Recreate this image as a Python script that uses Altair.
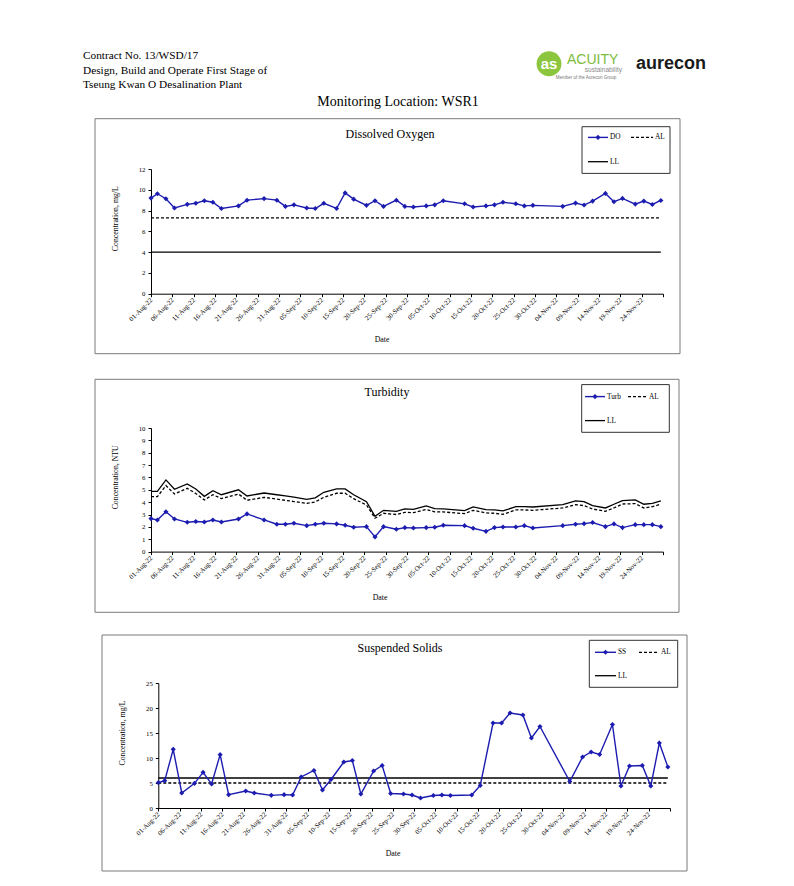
import altair as alt
import pandas as pd

# ---------------- data ----------------
DATES = [
    "2022-08-01T00:00:00Z",
    "2022-08-02T12:00:00Z", "2022-08-04T12:00:00Z", "2022-08-06T12:00:00Z", "2022-08-09T12:00:00Z",
    "2022-08-11T12:00:00Z", "2022-08-13T12:00:00Z", "2022-08-15T12:00:00Z", "2022-08-17T12:00:00Z",
    "2022-08-21T12:00:00Z", "2022-08-23T12:00:00Z", "2022-08-27T12:00:00Z", "2022-08-30T12:00:00Z",
    "2022-09-01T12:00:00Z", "2022-09-03T12:00:00Z", "2022-09-06T12:00:00Z", "2022-09-08T12:00:00Z",
    "2022-09-10T12:00:00Z", "2022-09-13T12:00:00Z", "2022-09-15T12:00:00Z", "2022-09-17T12:00:00Z",
    "2022-09-20T12:00:00Z", "2022-09-22T12:00:00Z", "2022-09-24T12:00:00Z", "2022-09-27T12:00:00Z",
    "2022-09-29T12:00:00Z",
    "2022-10-01T12:00:00Z", "2022-10-04T12:00:00Z", "2022-10-06T12:00:00Z", "2022-10-08T12:00:00Z",
    "2022-10-13T12:00:00Z", "2022-10-15T12:00:00Z", "2022-10-18T12:00:00Z", "2022-10-20T12:00:00Z",
    "2022-10-22T12:00:00Z", "2022-10-25T12:00:00Z", "2022-10-27T12:00:00Z", "2022-10-29T12:00:00Z",
    "2022-11-05T12:00:00Z", "2022-11-08T12:00:00Z", "2022-11-10T12:00:00Z", "2022-11-12T12:00:00Z",
    "2022-11-15T12:00:00Z", "2022-11-17T12:00:00Z", "2022-11-19T12:00:00Z", "2022-11-22T12:00:00Z",
    "2022-11-24T12:00:00Z", "2022-11-26T12:00:00Z", "2022-11-28T12:00:00Z",
]

DO = [9.2, 9.62, 9.14, 8.25, 8.6, 8.7, 8.95, 8.8, 8.2, 8.45,
      9.0, 9.15, 9.0, 8.4, 8.55, 8.25, 8.2, 8.7, 8.2, 9.7,
      9.1, 8.5, 8.95, 8.4, 9.0, 8.4, 8.35, 8.45, 8.55, 8.95,
      8.65, 8.35, 8.45, 8.55, 8.8, 8.65, 8.45, 8.5, 8.4, 8.72,
      8.53, 8.91, 9.65, 8.85, 9.17, 8.62, 8.91, 8.59, 8.97]
DO_AL = 7.3
DO_LL = 4.0

TURB = [2.67, 2.56, 3.23, 2.64, 2.37, 2.43, 2.4, 2.56, 2.4, 2.64,
        3.05, 2.56, 2.21, 2.21, 2.29, 2.1, 2.21, 2.29, 2.24, 2.13,
        1.97, 2.02, 1.19, 2.02, 1.81, 1.94, 1.91, 1.94, 1.97, 2.13,
        2.1, 1.89, 1.64, 1.94, 1.99, 1.99, 2.1, 1.91, 2.1, 2.21,
        2.26, 2.35, 2.02, 2.24, 1.94, 2.18, 2.18, 2.18, 2.02]
TURB_LL = [4.88, 4.88, 5.8, 5.04, 5.47, 5.07, 4.47, 4.93, 4.6, 5.0,
           4.5, 4.74, 4.6, 4.5, 4.4, 4.23, 4.35, 4.8, 5.07, 5.07,
           4.6, 4.04, 2.86, 3.34, 3.26, 3.45, 3.42, 3.69, 3.48, 3.45,
           3.32, 3.61, 3.4, 3.37, 3.29, 3.64, 3.64, 3.61, 3.8, 4.1,
           4.04, 3.72, 3.53, 3.83, 4.12, 4.18, 3.83, 3.91, 4.1]
TURB_AL = [4.45, 4.45, 5.34, 4.66, 5.12, 4.7, 4.18, 4.6, 4.29, 4.66,
           4.15, 4.39, 4.25, 4.15, 4.05, 3.9, 4.02, 4.39, 4.72, 4.72,
           4.28, 3.77, 2.7, 3.1, 3.0, 3.18, 3.15, 3.4, 3.21, 3.21,
           3.07, 3.34, 3.13, 3.1, 3.02, 3.37, 3.37, 3.34, 3.53, 3.8,
           3.72, 3.45, 3.26, 3.53, 3.85, 3.88, 3.53, 3.64, 3.83]

SS = [5.07, 5.47, 11.73, 3.0, 4.93, 7.13, 4.8, 10.67, 2.67, 3.4,
      3.0, 2.53, 2.67, 2.6, 6.2, 7.5, 3.6, 5.7, 9.2, 9.5,
      2.8, 7.4, 8.5, 2.9, 2.8, 2.6, 2.0, 2.5, 2.6, 2.5,
      2.6, 4.5, 17.0, 17.0, 19.0, 18.6, 14.0, 16.3, 5.3, 10.2,
      11.2, 10.7, 16.7, 4.4, 8.4, 8.5, 4.4, 13.0, 8.2]
SS_AL = 5
SS_LL = 6

HEADER = ["Contract No. 13/WSD/17",
          "Design, Build and Operate First Stage of",
          "Tseung Kwan O Desalination Plant"]
PAGE_TITLE = "Monitoring Location: WSR1"

# ---------------- styling ----------------
BLUE = "#1c1cb0"
SERIF = "Liberation Serif"
SANS = "Liberation Sans"
ONE = pd.DataFrame({"k": [0]})
ANCHOR_X = 8
OX = 151  # common group origin (page x) of every panel


def ms(s):
    return int(pd.Timestamp(s, tz="UTC").timestamp() * 1000)


X_START = ms("2022-08-01")
X_END = ms("2022-11-29")
TICK_VALUES = [X_START + i * 5 * 86400000 for i in range(25)]
LAST_LABEL = ms("2022-11-24")


def panel(values, al, ll, series, title, ytitle, ymax, ystep,
          xshift, oy, w, h, frame, anchor_y, title_xy, ytitle_xy, date_xy, leg,
          extra_text=()):
    n = len(values)
    al = al if isinstance(al, list) else [al] * n
    ll = ll if isinstance(ll, list) else [ll] * n
    df = pd.DataFrame({"date": DATES, "v": values, "al": al, "ll": ll})

    def px(x):
        return x - OX

    def py(y):
        return y - oy

    X = alt.X("date:T", title=None,
              scale=alt.Scale(type="utc", domain=[X_START, X_END], range=[xshift, xshift + w]),
              axis=alt.Axis(values=TICK_VALUES,
                            labelExpr=f"datum.value > {LAST_LABEL} ? '' : utcFormat(datum.value, '%d-%b-%y')",
                            labelAngle=315, labelAlign="right", labelBaseline="middle",
                            labelOverlap=False, labelFlush=False, labelPadding=2,
                            tickSize=3, labelFontSize=6.8, grid=False))

    def Y(f):
        return alt.Y(f"{f}:Q", title=None,
                     scale=alt.Scale(domain=[0, ymax], nice=False),
                     axis=alt.Axis(values=list(range(0, ymax + 1, ystep)), grid=False,
                                   offset=-xshift,
                                   tickSize=3, labelPadding=3, labelFontSize=6.8))

    base = alt.Chart(df)
    layers = []

    def text(s, x, y, size, font=SERIF, **kw):
        return alt.Chart(ONE).mark_text(fontSize=size, font=font, **kw).encode(
            x=alt.value(px(x)), y=alt.value(py(y)), text=alt.value(s))

    def rule(x1, x2, y, color="black", width=1.3, dash=None):
        kw = dict(color=color, strokeWidth=width)
        if dash:
            kw["strokeDash"] = dash
        return alt.Chart(ONE).mark_rule(**kw).encode(
            x=alt.value(px(x1)), x2=alt.value(px(x2)), y=alt.value(py(y)))

    def rect(x1, y1, x2, y2, **kw):
        return alt.Chart(ONE).mark_rect(**kw).encode(
            x=alt.value(px(x1)), x2=alt.value(px(x2)),
            y=alt.value(py(y1)), y2=alt.value(py(y2)))

    # anchor and frame
    layers.append(rect(ANCHOR_X, anchor_y, ANCHOR_X + 1, anchor_y + 1, fill="white", strokeWidth=0))
    layers.append(rect(*frame, fill="white", fillOpacity=0, stroke="#7a7a7a", strokeWidth=1))

    # limit lines and data
    layers.append(base.mark_line(color="black", strokeWidth=1.3, strokeDash=[3, 2]).encode(x=X, y=Y("al")))
    layers.append(base.mark_line(color="black", strokeWidth=1.3).encode(x=X, y=Y("ll")))
    layers.append(base.mark_line(color=BLUE, strokeWidth=1.4).encode(x=X, y=Y("v")))
    layers.append(base.mark_point(shape="diamond", filled=True, size=26, color=BLUE, opacity=1).encode(x=X, y=Y("v")))

    # titles
    layers.append(text(title, title_xy[0], title_xy[1], 12, align="center", baseline="middle"))
    layers.append(text(ytitle, ytitle_xy[0], ytitle_xy[1], 7.8, align="center", baseline="middle", angle=270))
    layers.append(text("Date", date_xy[0], date_xy[1], 7.8, align="center", baseline="middle"))

    # legend
    bx1, by1, bx2, by2, lx1, lx2, ax1, ax2, y1, y2 = leg
    layers.append(rect(bx1, by1, bx2, by2, fill="white", stroke="#333333", strokeWidth=1))
    layers.append(rule(lx1, lx2, y1, color=BLUE, width=1.4))
    layers.append(alt.Chart(ONE).mark_point(shape="diamond", filled=True, size=26, color=BLUE, opacity=1).encode(
        x=alt.value(px((lx1 + lx2) / 2)), y=alt.value(py(y1))))
    layers.append(text(series, lx2 + 2, y1, 7.3, align="left", baseline="middle"))
    layers.append(rule(ax1, ax2, y1, dash=[3, 2]))
    layers.append(text("AL", ax2 + 2, y1, 7.3, align="left", baseline="middle"))
    layers.append(rule(lx1, lx2, y2))
    layers.append(text("LL", lx2 + 2, y2, 7.3, align="left", baseline="middle"))

    for e in extra_text:
        kind = e[0]
        if kind == "text":
            _, s, x, y, size, kw = e
            layers.append(text(s, x, y, size, **kw))
        elif kind == "dot":
            _, x, y, size, color = e
            layers.append(alt.Chart(ONE).mark_point(shape="circle", filled=True, size=size,
                                                    color=color, opacity=1).encode(
                x=alt.value(px(x)), y=alt.value(py(y))))

    return alt.layer(*layers).properties(width=w + xshift, height=h)


header_items = [
    ("text", HEADER[0], 83, 55, 11.3, dict(align="left", baseline="middle")),
    ("text", HEADER[1], 83, 70, 11.3, dict(align="left", baseline="middle")),
    ("text", HEADER[2], 83, 84, 11.3, dict(align="left", baseline="middle")),
    ("text", PAGE_TITLE, 398, 101, 14, dict(align="center", baseline="middle")),
    ("dot", 549, 63, 620, "#8cc63f"),
    ("text", "as", 549, 63, 15, dict(align="center", baseline="middle", font=SANS,
                                      fontWeight="bold", color="white")),
    ("text", "ACUITY", 567, 59, 14, dict(align="left", baseline="middle", font=SANS, color="#7dbb3c")),
    ("text", "sustainability", 622, 69.5, 6.5, dict(align="right", baseline="middle", font=SANS, color="#8a8a8a")),
    ("text", "Member of the Aurecon Group", 586, 77.5, 4.5, dict(align="center", baseline="middle",
                                                                font=SANS, color="#777777")),
    ("text", "aurecon", 636, 63, 18, dict(align="left", baseline="middle", font=SANS,
                                          fontWeight="bold", color="#1a1a1a")),
]

p1 = panel(DO, DO_AL, DO_LL, "DO", "Dissolved Oxygen", "Concentration, mg/L", 12, 2,
           xshift=0, oy=168.3, w=512, h=124.7,
           frame=(95, 118, 680, 353), anchor_y=8,
           title_xy=(390, 133), ytitle_xy=(116, 218), date_xy=(382, 339.5),
           leg=(582, 126, 670, 172.7, 588, 608, 631, 653, 136.7, 161),
           extra_text=header_items)

p2 = panel(TURB, TURB_AL, TURB_LL, "Turb", "Turbidity", "Concentration, NTU", 10, 1,
           xshift=0, oy=425.7, w=512, h=123.6,
           frame=(95, 377, 679, 610), anchor_y=353.5,
           title_xy=(387, 390), ytitle_xy=(116, 475), date_xy=(380, 596),
           leg=(581.7, 382.3, 669.3, 430, 585, 605, 628, 647, 394.3, 418.3))

p3 = panel(SS, SS_AL, SS_LL, "SS", "Suspended Solids", "Concentration, mg/L", 25, 5,
           xshift=7.3, oy=680, w=511.7, h=125,
           frame=(102, 632, 687, 868), anchor_y=610.5,
           title_xy=(400, 645), ytitle_xy=(122.7, 730), date_xy=(393, 851),
           leg=(589.3, 637.3, 677.7, 684.3, 595, 616, 639, 659, 649.3, 672.7))

chart = alt.vconcat(p1, p2, p3, spacing=0, padding=0).configure_view(strokeWidth=0).configure_axis(
    domainColor="black", tickColor="black", labelColor="black", labelFont=SERIF,
    domainWidth=1, tickWidth=1)

chart.save("out.html", embed_options={"renderer": "svg", "actions": False})
